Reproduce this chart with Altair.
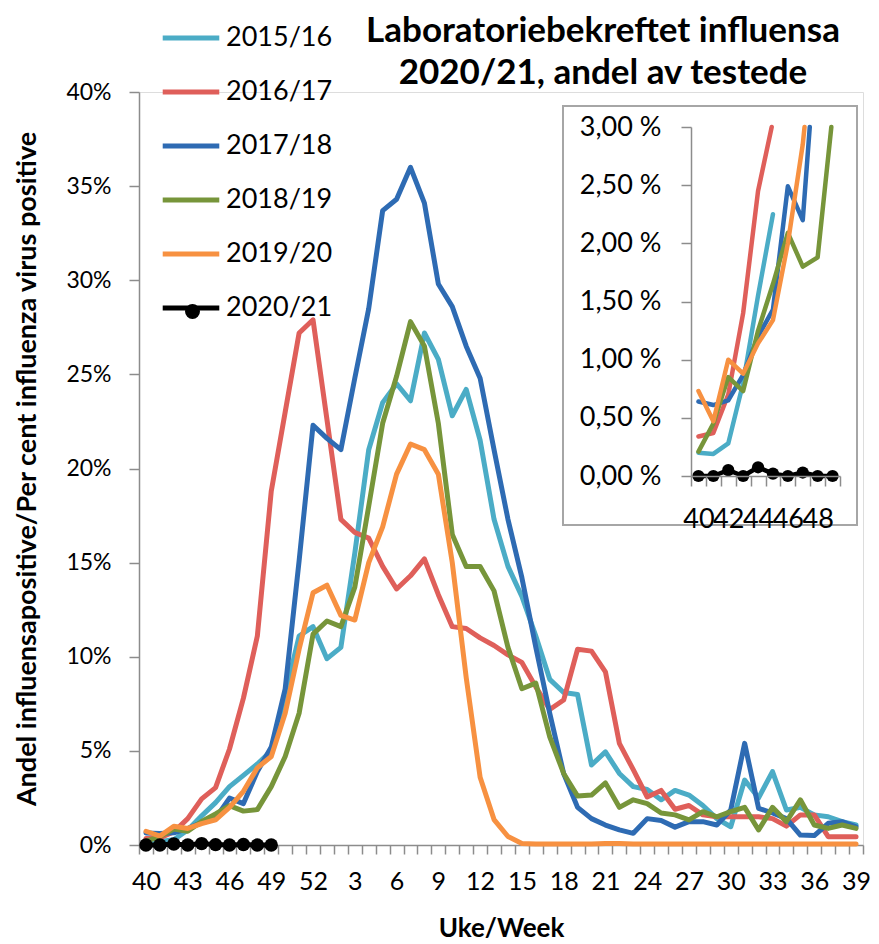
import json
import altair as alt
import pandas as pd

# ---------------- data ----------------
weeks = list(range(40, 53)) + list(range(1, 40))
seasons = ["2015/16", "2016/17", "2017/18", "2018/19", "2019/20", "2020/21"]
colors = ["#4BACC6", "#DF5F5A", "#2E6BB3", "#77953A", "#F79141", "#000000"]

v1516 = [0.2, 0.19, 0.28, 0.8, 1.55, 2.25, 3.1, 3.7, 4.3, 5.0, 8.0, 11.1, 11.6,
         9.9, 10.5, 15.5, 21.0, 23.5, 24.5, 23.6, 27.2, 25.8, 22.8, 24.2, 21.5, 17.3,
         14.8, 13.2, 11.1, 8.8, 8.1, 8.0, 4.25, 4.95, 3.8, 3.1, 2.95, 2.4, 2.9, 2.65,
         2.1, 1.4, 0.97, 3.45, 2.5, 3.9, 1.86, 2.0, 1.6, 1.5, 1.24, 1.06]
v1617 = [0.34, 0.37, 0.7, 1.4, 2.45, 3.05, 5.1, 7.8, 11.1, 18.8, 23.0, 27.2, 27.9,
         22.6, 17.3, 16.6, 16.3, 14.8, 13.6, 14.3, 15.2, 13.3, 11.6, 11.5, 11.0, 10.6,
         10.1, 9.7, 8.4, 7.2, 7.7, 10.4, 10.3, 9.2, 5.4, 4.0, 2.55, 2.9, 1.9, 2.1,
         1.6, 1.5, 1.5, 1.5, 1.5, 1.4, 1.0, 1.6, 1.6, 0.44, 0.44, 0.44]
v1718 = [0.64, 0.61, 0.65, 0.87, 1.2, 1.43, 2.49, 2.2, 3.9, 5.2, 8.3, 15.1, 22.3,
         21.6, 21.0, 24.8, 28.5, 33.7, 34.3, 36.0, 34.1, 29.8, 28.6, 26.5, 24.8, 21.0,
         17.3, 14.2, 10.5, 7.0, 3.8, 2.0, 1.4, 1.06, 0.8, 0.62, 1.4, 1.3, 0.95, 1.24,
         1.24, 1.06, 1.86, 5.4, 1.95, 1.7, 1.4, 0.53, 0.5, 1.15, 1.24, 0.97]
v1819 = [0.21, 0.45, 0.85, 0.73, 1.25, 1.65, 2.09, 1.8, 1.88, 3.1, 4.7, 7.0, 11.2,
         11.9, 11.6, 13.7, 18.0, 22.4, 24.9, 27.8, 26.5, 22.4, 16.5, 14.8, 14.8, 13.5,
         10.5, 8.3, 8.6, 5.75, 3.8, 2.6, 2.65, 3.3, 2.0, 2.4, 2.2, 1.7, 1.6, 1.33,
         1.77, 1.5, 1.77, 2.0, 0.8, 2.0, 1.24, 2.4, 1.06, 0.88, 1.06, 0.88]
v1920 = [0.73, 0.47, 1.0, 0.88, 1.14, 1.34, 2.0, 2.85, 4.1, 4.7, 7.0, 10.4, 13.4,
         13.8, 12.2, 11.95, 15.0, 16.9, 19.7, 21.3, 21.0, 19.7, 15.0, 8.9, 3.6, 1.35,
         0.45, 0.08, 0.05, 0.05, 0.05, 0.05, 0.05, 0.08, 0.08, 0.05, 0.05, 0.05, 0.05, 0.05,
         0.05, 0.05, 0.05, 0.05, 0.05, 0.05, 0.05, 0.05, 0.05, 0.05, 0.05, 0.05]
v2021 = [0.0, 0.0, 0.05, 0.0, 0.075, 0.02, 0.0, 0.03, 0.0, 0.0]

values = {"2015/16": v1516, "2016/17": v1617, "2017/18": v1718,
          "2018/19": v1819, "2019/20": v1920, "2020/21": v2021}

y_ticks = [0, 5, 10, 15, 20, 25, 30, 35, 40]
inset_weeks = weeks[:10]
inset_y_ticks = [0, 0.5, 1.0, 1.5, 2.0, 2.5, 3.0]
inset_cut = {"2015/16": 6}     # the 2015/16 inset line stops at week 45
inset_max = 3.0

title_lines = ["Laboratoriebekreftet influensa", "2020/21, andel av testede"]
y_title = "Andel influensapositive/Per cent influenza virus positive"
x_title = "Uke/Week"

# ---------------- tables ----------------
rows = []
for s in seasons:
    for k, v in enumerate(values[s]):
        rows.append({"season": s, "i": k, "week": weeks[k], "v": v})
main_df = pd.DataFrame(rows)
dot_df = main_df[main_df.season == "2020/21"].assign(dot="2020/21")

irows = []
for s in seasons:
    vs = values[s][: inset_cut.get(s, len(inset_weeks))]
    for k, v in enumerate(vs):
        if v <= inset_max:
            irows.append({"season": s, "i": k, "v": v})
        else:
            if k > 0:
                v0 = vs[k - 1]
                f = (inset_max - v0) / (v - v0)
                irows.append({"season": s, "i": k - 1 + f, "v": inset_max})
            break
inset_df = pd.DataFrame(irows)
idot_df = inset_df[inset_df.season == "2020/21"]

# ---------------- layout ----------------
FONT = "Lato"
AX = "#8C8C8C"
W, H = 724, 753
N = len(weeks)
step = W / N
IX0, IX1 = 552, 701          # inset plot x range (px inside main plot)
IY0, IY1 = 384, 35           # inset plot y range
n_in = len(inset_weeks)

x_labels = [str(w) if k % 3 == 0 else "" for k, w in enumerate(weeks)] + [""]
x_label_expr = json.dumps(x_labels) + "[round(datum.value + 0.5)]"
ix_labels = [str(w) if k % 2 == 0 else "" for k, w in enumerate(inset_weeks)] + [""]
ix_label_expr = json.dumps(ix_labels) + "[round(datum.value + 0.5)]"

color = alt.Color(
    "season:N",
    scale=alt.Scale(domain=seasons, range=colors),
    legend=alt.Legend(
        title=None, orient="none", legendX=21, legendY=-85, padding=0,
        symbolType="stroke", symbolSize=3200, symbolStrokeWidth=5,
        labelFont=FONT, labelFontSize=27, labelColor="#000000", labelOffset=4,
        labelLimit=0, rowPadding=10,
    ),
)

x_main = alt.X(
    "i:Q",
    scale=alt.Scale(domain=[-0.5, N - 0.5], nice=False, zero=False),
    axis=alt.Axis(
        values=[k - 0.5 for k in range(N + 1)], labelExpr=x_label_expr,
        labelOffset=step / 2, labelOverlap=False, labelFlush=False,
        tickSize=9, tickColor=AX, tickWidth=1.5, domainColor=AX, domainWidth=1.5,
        grid=False, labelFont=FONT, labelFontSize=25, labelColor="#000000",
        labelPadding=15, title=x_title, titleFont=FONT, titleFontSize=26,
        titleFontWeight="bold", titleColor="#000000", titlePadding=21,
    ),
)
y_main = alt.Y(
    "v:Q",
    scale=alt.Scale(domain=[0, 40], nice=False),
    axis=alt.Axis(
        values=y_ticks, labelExpr="datum.value + '%'",
        tickSize=10, tickColor=AX, tickWidth=1.5, domainColor=AX, domainWidth=1.5,
        grid=False, labelFont=FONT, labelFontSize=23, labelColor="#000000",
        labelPadding=18, title=y_title, titleFont=FONT, titleFontSize=27,
        titleFontWeight="bold", titleColor="#000000", titlePadding=24,
    ),
)

lines = alt.Chart(main_df).mark_line(strokeWidth=5, strokeJoin="round", strokeCap="round").encode(
    x=x_main, y=y_main, color=color, detail="season:N", order="i:Q"
)
dots = alt.Chart(dot_df).mark_point(filled=True, size=180, opacity=1).encode(
    x=x_main, y=y_main, color=color,
    shape=alt.Shape(
        "dot:N", scale=alt.Scale(domain=["2020/21"], range=["circle"]),
        legend=alt.Legend(title=None, orient="none", legendX=46, legendY=212, padding=0,
                          symbolFillColor="#000000", symbolStrokeColor="#000000",
                          symbolSize=180, labelFontSize=1, labelColor="transparent",
                          labelOffset=0),
    ),
)
main = alt.layer(lines, dots)

frame = alt.Chart(alt.Data(values=[{}])).mark_rect(
    fill="#FFFFFF", stroke="#A6A6A6", strokeWidth=2
).encode(x=alt.value(424), x2=alt.value(718), y=alt.value(14), y2=alt.value(433))

x_in = alt.X(
    "i:Q",
    scale=alt.Scale(domain=[-0.5, n_in - 0.5], range=[IX0, IX1], nice=False, zero=False),
    axis=alt.Axis(
        orient="bottom", offset=-(H - IY0), zindex=2,
        values=[k - 0.5 for k in range(n_in + 1)], labelExpr=ix_label_expr,
        labelOffset=(IX1 - IX0) / n_in / 2, labelOverlap=False, labelFlush=False,
        tickSize=10, tickColor=AX, tickWidth=1.5, domainColor=AX, domainWidth=1.5,
        grid=False, labelFont=FONT, labelFontSize=27, labelColor="#000000",
        labelPadding=20, title=None,
    ),
)
y_in = alt.Y(
    "v:Q",
    scale=alt.Scale(domain=[0, inset_max], range=[IY0, IY1], nice=False),
    axis=alt.Axis(
        orient="left", offset=-IX0, values=inset_y_ticks, zindex=2,
        labelExpr="replace(format(datum.value, '.2f'), '.', ',') + ' %'",
        tickSize=10, tickColor=AX, tickWidth=1.5, domainColor=AX, domainWidth=1.5,
        grid=False, labelFont=FONT, labelFontSize=27, labelColor="#000000",
        labelPadding=20, title=None,
    ),
)
ilines = alt.Chart(inset_df).mark_line(strokeWidth=4.5, strokeJoin="round", strokeCap="round").encode(
    x=x_in, y=y_in, color=color, detail="season:N", order="i:Q"
)
idots = alt.Chart(idot_df).mark_point(filled=True, size=150, opacity=1).encode(
    x=x_in, y=y_in, color=color
)
inset = alt.layer(frame, ilines, idots)

chart = alt.layer(main, inset).resolve_scale(x="independent", y="independent").properties(
    width=W, height=H,
    autosize=alt.AutoSizeParams(type="none"),
    padding={"left": 131, "top": 84, "right": 8, "bottom": 96},
    title=alt.TitleParams(
        text=title_lines, font=FONT, fontSize=35, fontWeight="bold", color="#000000",
        anchor="middle", frame="group", dx=102, dy=94, offset=10, lineHeight=42,
    ),
).configure_view(stroke=None).configure(background="#FFFFFF")

chart.save("out.html", embed_options={"renderer": "svg", "actions": False})
